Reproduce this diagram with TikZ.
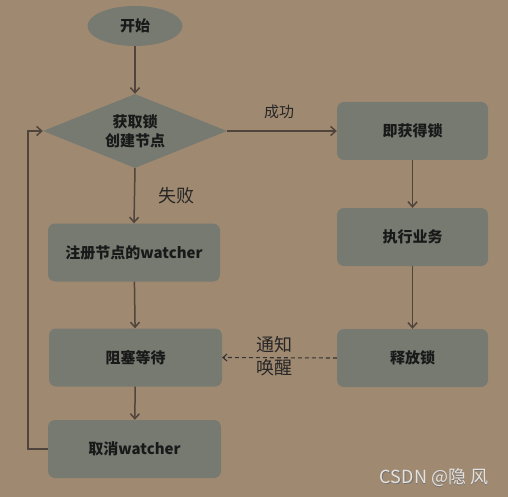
\documentclass[tikz,border=0pt]{standalone}
\usepackage{fontspec}
\setmainfont{Noto Sans CJK SC}
\usetikzlibrary{shapes.geometric,arrows.meta}
\definecolor{bgc}{RGB}{160,137,113}
\definecolor{boxc}{RGB}{118,122,113}
\definecolor{linec}{RGB}{80,68,60}
\definecolor{wmc}{RGB}{228,226,222}
\begin{document}
\begin{tikzpicture}[x=1pt,y=-1pt,
  txt/.style={font=\fontsize{15}{18}\selectfont\bfseries, text=black!90},
  box/.style={txt, fill=boxc, rounded corners=7pt, minimum width=#1, minimum height=58pt, inner sep=0pt},
  conn/.style={draw=linec, line width=1.5pt, -{Straight Barb[length=5pt,width=9pt]}},
  lbl/.style={font=\fontsize{18}{21}\selectfont, text=black!85}]
\fill[bgc] (0,0) rectangle (508,497);
\useasboundingbox (0,0) rectangle (508,497);
\node[txt, ellipse, fill=boxc, minimum width=95pt, minimum height=40pt, inner sep=0pt] (start) at (135,26) {开始};
\node[txt, diamond, fill=boxc, minimum width=184pt, minimum height=74pt, inner sep=0pt, aspect=2.5, align=center, font=\fontsize{15}{19}\selectfont\bfseries] (dec) at (135,131) {获取锁\\创建节点};
\node[box=151pt] (get) at (412.5,131) {即获得锁};
\node[box=151pt] (exec) at (412.5,237) {执行业务};
\node[box=151pt] (rel) at (412.5,358) {释放锁};
\node[box=172pt] (reg) at (134,252.5) {注册节点的watcher};
\node[box=173pt] (blk) at (135.5,357.5) {阻塞等待};
\node[box=173pt] (cancel) at (134.5,449) {取消watcher};
\coordinate (lc) at (28,449);
\coordinate (lt) at (28,131);
\draw[conn] (start) -- (dec);
\draw[conn] (dec.east) -- (get.west);
\draw[conn] (dec.south) -- (reg.north);
\draw[conn] (get) -- (exec);
\draw[conn] (exec) -- (rel);
\draw[conn] (reg) -- (blk);
\draw[conn] (blk) -- (cancel);
\draw[conn] (cancel.west) -- (lc) -- (lt) -- (dec.west);
\draw[draw=black!80, line width=1.1pt, dash pattern=on 4pt off 3pt, -{Straight Barb[length=4pt,width=7pt]}] (rel.west) -- (blk.east);
\node[lbl, font=\fontsize{15}{18}\selectfont] (ok) at (279,112) {成功};
\node[lbl] (fail) at (176,196) {失败};
\node[lbl, align=center, inner sep=1pt, font=\fontsize{18}{23}\selectfont] (notify) at (274,356) {通知\\唤醒};
\node[font=\fontsize{18}{20}\selectfont, text=black!55] at (434.8,478.8) {CSDN @隐 风};
\node[font=\fontsize{18}{20}\selectfont, text=wmc] (wm) at (434,478) {CSDN @隐 风};
\end{tikzpicture}
\end{document}
